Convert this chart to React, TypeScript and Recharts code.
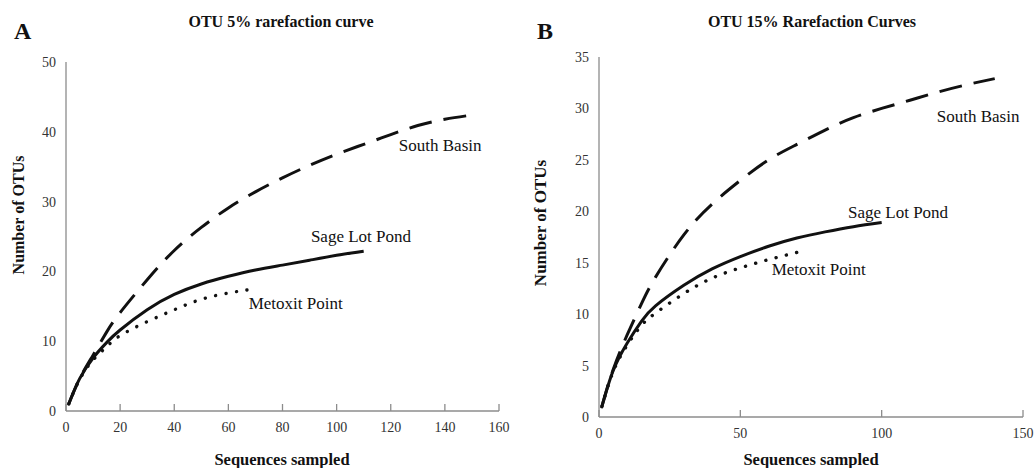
import React from 'react';
import { LineChart, Line, XAxis, YAxis, ReferenceDot } from 'recharts';

const FONT = '"Liberation Serif", "Times New Roman", Times, serif';

// ---------- Panel A: OTU 5% ----------
const aSouthBasinX = [1, 5, 10, 15, 20, 30, 40, 50, 60, 70, 80, 90, 100, 110, 120, 130, 140, 150];
const aSouthBasinY = [1, 4.6, 8.0, 11.3, 14.1, 18.8, 23.0, 26.3, 29.1, 31.4, 33.4, 35.2, 36.8, 38.2, 39.6, 40.9, 41.8, 42.4];
const aSageX = [1, 5, 10, 15, 20, 30, 40, 50, 60, 70, 80, 90, 100, 110];
const aSageY = [1, 4.6, 7.6, 9.8, 11.6, 14.5, 16.7, 18.2, 19.3, 20.2, 20.9, 21.6, 22.3, 22.9];
const aMetoxitX = [1, 5, 10, 15, 20, 30, 40, 50, 60, 68];
const aMetoxitY = [1, 4.5, 7.3, 9.2, 10.8, 12.8, 14.5, 16.0, 16.9, 17.4];
const aXTicks = [0, 20, 40, 60, 80, 100, 120, 140, 160];
const aYTicks = [0, 10, 20, 30, 40, 50];

// ---------- Panel B: OTU 15% ----------
const bSouthBasinX = [1, 5, 10, 15, 20, 30, 40, 50, 60, 70, 80, 90, 100, 110, 120, 130, 140];
const bSouthBasinY = [1, 4.6, 8.0, 11.0, 13.6, 17.7, 20.7, 23.0, 25.0, 26.5, 27.9, 29.1, 30.0, 30.8, 31.6, 32.3, 32.9];
const bSageX = [1, 5, 10, 15, 20, 30, 40, 50, 60, 70, 80, 90, 100];
const bSageY = [1, 4.5, 7.2, 9.3, 10.8, 12.8, 14.4, 15.6, 16.6, 17.4, 18.0, 18.5, 18.9];
const bMetoxitX = [1, 5, 10, 15, 20, 30, 40, 50, 60, 70];
const bMetoxitY = [1, 4.4, 7.0, 8.9, 10.1, 12.0, 13.5, 14.5, 15.3, 16.0];
const bXTicks = [0, 50, 100, 150];
const bYTicks = [0, 5, 10, 15, 20, 25, 30, 35];

// Annotation anchors (data units)
const aLabels = [
  { text: 'South Basin', x: 123, y: 37.3 },
  { text: 'Sage Lot Pond', x: 90.5, y: 24.2 },
  { text: 'Metoxit Point', x: 67.5, y: 14.6 },
];
const bLabels = [
  { text: 'South Basin', x: 119.5, y: 28.7 },
  { text: 'Sage Lot Pond', x: 88.1, y: 19.3 },
  { text: 'Metoxit Point', x: 61.1, y: 13.8 },
];

const zip = (xs: number[], ys: number[]) => xs.map((x, i) => ({ x, y: ys[i] }));

const AXIS_COLOR = '#8c8c8c';
const LINE_COLOR = '#111';
const tickTextStyle = { fontFamily: FONT, fontSize: 14, fill: '#333' };

function XTick(props: any) {
  const { x, y, payload } = props;
  return (
    <g>
      <line x1={x} x2={x} y1={y} y2={y - 7} stroke={AXIS_COLOR} strokeWidth={1.3} />
      <text x={x} y={y + 21} textAnchor="middle" style={tickTextStyle}>
        {payload.value}
      </text>
    </g>
  );
}

function YTick(props: any) {
  const { x, y, payload } = props;
  return (
    <text x={x} y={y} dy="0.36em" textAnchor="end" style={tickTextStyle}>
      {payload.value}
    </text>
  );
}

const annotContent = (text: string) => (props: any) => {
  const vb = props.viewBox || {};
  return (
    <text x={vb.x} y={vb.y} textAnchor="start" style={{ fontFamily: FONT, fontSize: 17, fill: '#111' }}>
      {text}
    </text>
  );
};

type PanelProps = {
  left: number;
  width: number;
  margin: { top: number; right: number; bottom: number; left: number };
  xDomain: [number, number];
  yDomain: [number, number];
  xTicks: number[];
  yTicks: number[];
  south: { x: number; y: number }[];
  sage: { x: number; y: number }[];
  metoxit: { x: number; y: number }[];
  labels: { text: string; x: number; y: number }[];
};

function Panel(p: PanelProps) {
  return (
    <div style={{ position: 'absolute', left: p.left, top: 0 }}>
      <LineChart width={p.width} height={468} margin={p.margin}>
        <XAxis
          type="number"
          dataKey="x"
          domain={p.xDomain}
          ticks={p.xTicks}
          interval={0}
          height={30}
          tickSize={0}
          tickMargin={0}
          tickLine={false}
          tick={<XTick />}
          axisLine={{ stroke: AXIS_COLOR, strokeWidth: 1.3 }}
          allowDataOverflow
        />
        <YAxis
          type="number"
          dataKey="y"
          domain={p.yDomain}
          ticks={p.yTicks}
          interval={0}
          width={30}
          tickSize={0}
          tickMargin={10}
          tickLine={false}
          tick={<YTick />}
          axisLine={{ stroke: AXIS_COLOR, strokeWidth: 1.3 }}
          allowDataOverflow
        />
        <Line
          data={p.south}
          dataKey="y"
          type="natural"
          stroke={LINE_COLOR}
          strokeWidth={3}
          strokeDasharray="23 12"
          dot={false}
          activeDot={false}
          isAnimationActive={false}
        />
        <Line
          data={p.sage}
          dataKey="y"
          type="natural"
          stroke={LINE_COLOR}
          strokeWidth={3}
          dot={false}
          activeDot={false}
          isAnimationActive={false}
        />
        <Line
          data={p.metoxit}
          dataKey="y"
          type="natural"
          stroke={LINE_COLOR}
          strokeWidth={3.4}
          strokeDasharray="0.1 10.5"
          strokeLinecap="round"
          dot={false}
          activeDot={false}
          isAnimationActive={false}
        />
        {p.labels.map((l) => (
          <ReferenceDot
            key={l.text}
            x={l.x}
            y={l.y}
            r={0.01}
            fill="none"
            stroke="none"
            label={{ content: annotContent(l.text) }}
          />
        ))}
      </LineChart>
    </div>
  );
}

export default function App() {
  const titleStyle = { fontFamily: FONT, fontWeight: 700, fill: '#111' };
  return (
    <div style={{ position: 'absolute', left: 0, top: 0, width: 1035, height: 468, background: '#fff' }}>
      <Panel
        left={0}
        width={520}
        margin={{ top: 62, right: 21, bottom: 27, left: 36 }}
        xDomain={[0, 160]}
        yDomain={[0, 50]}
        xTicks={aXTicks}
        yTicks={aYTicks}
        south={zip(aSouthBasinX, aSouthBasinY)}
        sage={zip(aSageX, aSageY)}
        metoxit={zip(aMetoxitX, aMetoxitY)}
        labels={aLabels}
      />
      <Panel
        left={520}
        width={515}
        margin={{ top: 57, right: 12, bottom: 21, left: 49 }}
        xDomain={[0, 150]}
        yDomain={[0, 35]}
        xTicks={bXTicks}
        yTicks={bYTicks}
        south={zip(bSouthBasinX, bSouthBasinY)}
        sage={zip(bSageX, bSageY)}
        metoxit={zip(bMetoxitX, bMetoxitY)}
        labels={bLabels}
      />
      <svg
        width={1035}
        height={468}
        style={{ position: 'absolute', left: 0, top: 0, pointerEvents: 'none' }}
      >
        <text x={14} y={39} style={{ ...titleStyle, fontSize: 24 }}>A</text>
        <text x={537} y={39} style={{ ...titleStyle, fontSize: 24 }}>B</text>
        <text x={281} y={26.5} textAnchor="middle" style={{ ...titleStyle, fontSize: 16 }}>
          OTU 5% rarefaction curve
        </text>
        <text x={812} y={26.5} textAnchor="middle" style={{ ...titleStyle, fontSize: 16 }}>
          OTU 15% Rarefaction Curves
        </text>
        <text x={282} y={465} textAnchor="middle" style={{ ...titleStyle, fontSize: 16.5 }}>
          Sequences sampled
        </text>
        <text x={811} y={465} textAnchor="middle" style={{ ...titleStyle, fontSize: 16.5 }}>
          Sequences sampled
        </text>
        <text
          x={18}
          y={215}
          textAnchor="middle"
          dominantBaseline="central"
          transform="rotate(-90 18 215)"
          style={{ ...titleStyle, fontSize: 16 }}
        >
          Number of OTUs
        </text>
        <text
          x={540}
          y={223}
          textAnchor="middle"
          dominantBaseline="central"
          transform="rotate(-90 540 223)"
          style={{ ...titleStyle, fontSize: 17 }}
        >
          Number of OTUs
        </text>
      </svg>
    </div>
  );
}
